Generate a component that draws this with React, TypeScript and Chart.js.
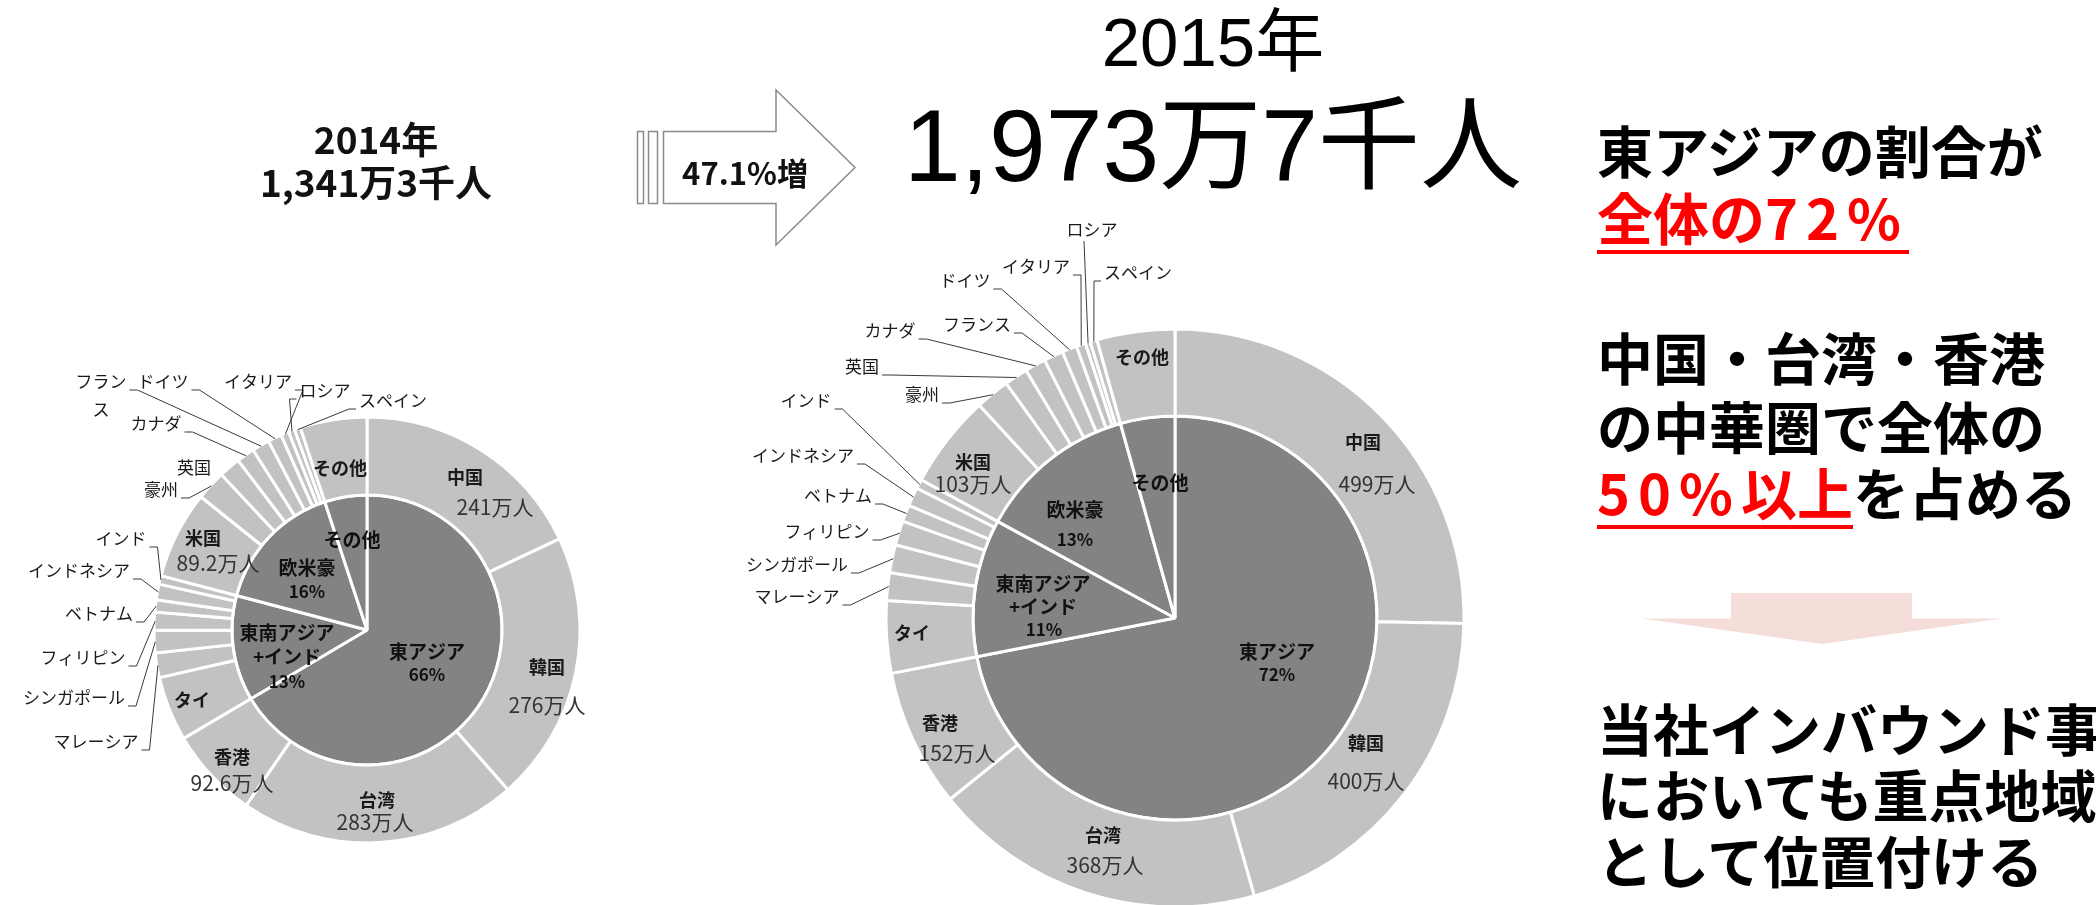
import React, { useEffect, useRef } from 'react';
import { Chart, registerables } from 'chart.js';

Chart.register(...registerables);

const JP = '"Noto Sans CJK JP", "Noto Sans", sans-serif';

// ---- data (万人) ----
const COUNTRIES = ['中国', '韓国', '台湾', '香港', 'タイ', 'マレーシア', 'シンガポール', 'フィリピン', 'ベトナム', 'インドネシア', 'インド', '米国', '豪州', '英国', 'カナダ', 'フランス', 'ドイツ', 'イタリア', 'ロシア', 'スペイン', 'その他'];
const VISITORS_2014 = [240.9, 275.5, 283.0, 92.6, 65.8, 25.0, 22.8, 18.4, 12.4, 15.9, 8.8, 89.2, 30.3, 22.0, 18.3, 17.9, 14.0, 8.1, 6.4, 6.1, 67.9];
const VISITORS_2015 = [499.4, 400.2, 367.7, 152.4, 79.7, 30.5, 30.9, 26.8, 18.5, 20.5, 10.3, 103.3, 37.6, 25.8, 23.1, 21.4, 16.3, 10.3, 5.4, 7.7, 85.9];
const REGIONS = ['東アジア', '東南アジア+インド', '欧米豪', 'その他'];
const REGION_2014 = [892.0, 169.1, 212.3, 67.9];
const REGION_2015 = [1419.7, 217.2, 250.9, 85.9];
const SHARE_2014 = ['66%', '13%', '16%', ''];
const SHARE_2015 = ['72%', '11%', '13%', ''];
const VALUE_SHOWN = ['中国', '韓国', '台湾', '香港', '米国'];
const YEAR_2014 = '2014年';
const YEAR_2015 = '2015年';
const TOTAL_2014 = '1,341万3千人';
const TOTAL_2015 = '1,973万7千人';
const GROWTH = '47.1%増';

const RING_COLOR = '#c2c2c2';
const PIE_COLOR = '#838383';

type Pt = [number, number];
type Side = 'right' | 'left' | 'bottom' | 'none';
interface Layout {
  left: number; width: number; cx: number; cy: number; R: number; ring: number;
  region: Record<string, Pt[]>;
  inRing: Record<string, Pt[]>;
  outside: Record<string, { x: number; y: number; side: Side; wrap?: number }>;
}

const LAYOUT_2014: Layout = {
  left: 0, width: 700, cx: 367, cy: 630, R: 213, ring: 78,
  region: {
    '東アジア': [[427, 652], [427, 675]],
    '東南アジア+インド': [[287, 633], [287, 657], [287, 682]],
    '欧米豪': [[307, 568], [307, 592]],
    'その他': [[352, 540]],
  },
  inRing: {
    '中国': [[465, 477], [495, 507]],
    '韓国': [[547, 667], [547, 705]],
    '台湾': [[377, 800], [375, 822]],
    '香港': [[232, 757], [232, 783]],
    'タイ': [[192, 700]],
    '米国': [[203, 538], [218, 563]],
    'その他': [[340, 468]],
  },
  outside: {
    'フランス': { x: 101, y: 382, side: 'right', wrap: 3 },
    'ドイツ': { x: 163, y: 382, side: 'right' },
    'イタリア': { x: 258, y: 382, side: 'right' },
    'ロシア': { x: 325, y: 391, side: 'left' },
    'スペイン': { x: 393, y: 401, side: 'left' },
    'カナダ': { x: 156, y: 424, side: 'right' },
    '英国': { x: 194, y: 468, side: 'none' },
    '豪州': { x: 161, y: 490, side: 'right' },
    'インド': { x: 121, y: 539, side: 'right' },
    'インドネシア': { x: 79, y: 571, side: 'right' },
    'ベトナム': { x: 99, y: 614, side: 'right' },
    'フィリピン': { x: 83, y: 658, side: 'right' },
    'シンガポール': { x: 74, y: 698, side: 'right' },
    'マレーシア': { x: 96, y: 742, side: 'right' },
  },
};

const LAYOUT_2015: Layout = {
  left: 700, width: 900, cx: 1175, cy: 618, R: 289, ring: 87,
  region: {
    '東アジア': [[1277, 652], [1277, 675]],
    '東南アジア+インド': [[1043, 584], [1043, 607], [1044, 630]],
    '欧米豪': [[1075, 510], [1075, 540]],
    'その他': [[1160, 483]],
  },
  inRing: {
    '中国': [[1363, 442], [1377, 484]],
    '韓国': [[1366, 743], [1366, 781]],
    '台湾': [[1103, 835], [1105, 865]],
    '香港': [[940, 723], [957, 753]],
    'タイ': [[912, 633]],
    '米国': [[973, 462], [973, 484]],
    'その他': [[1142, 357]],
  },
  outside: {
    'ロシア': { x: 1092, y: 230, side: 'bottom' },
    'イタリア': { x: 1036, y: 267, side: 'right' },
    'ドイツ': { x: 965, y: 281, side: 'right' },
    'スペイン': { x: 1138, y: 273, side: 'left' },
    'フランス': { x: 977, y: 325, side: 'right' },
    'カナダ': { x: 890, y: 331, side: 'right' },
    '英国': { x: 862, y: 367, side: 'right' },
    '豪州': { x: 922, y: 395, side: 'right' },
    'インド': { x: 806, y: 401, side: 'right' },
    'インドネシア': { x: 803, y: 456, side: 'right' },
    'ベトナム': { x: 838, y: 496, side: 'right' },
    'フィリピン': { x: 827, y: 532, side: 'right' },
    'シンガポール': { x: 797, y: 565, side: 'right' },
    'マレーシア': { x: 797, y: 597, side: 'right' },
  },
};

const fmtValue = (v: number) => (v >= 100 ? `${Math.round(v)}万人` : `${v.toFixed(1)}万人`);

const labelPlugin = {
  id: 'pieLabels',
  afterDraw(chart: any, _args: any, opts: any) {
    const L: Layout = opts.layout;
    const values: number[] = opts.values;
    const shares: string[] = opts.shares;
    const ctx: CanvasRenderingContext2D = chart.ctx;
    const ox = L.left;
    const ringMeta = chart.getDatasetMeta(0);
    ctx.save();
    ctx.textAlign = 'center';
    ctx.textBaseline = 'middle';

    // inner pie labels
    REGIONS.forEach((name, i) => {
      const pos = L.region[name];
      if (!pos) return;
      const lines = name.split(/(?=\+)/);
      if (shares[i]) lines.push(shares[i]);
      lines.forEach((t, k) => {
        const isPct = !!shares[i] && k === lines.length - 1;
        ctx.font = isPct ? `bold 17px ${JP}` : `bold 19px ${JP}`;
        ctx.fillStyle = '#111';
        ctx.fillText(t, pos[k][0] - ox, pos[k][1]);
      });
    });

    // labels inside ring
    COUNTRIES.forEach((name, i) => {
      const pos = L.inRing[name];
      if (!pos) return;
      ctx.fillStyle = '#1a1a1a';
      ctx.font = `bold 18px ${JP}`;
      ctx.fillText(name, pos[0][0] - ox, pos[0][1]);
      if (VALUE_SHOWN.includes(name) && pos[1]) {
        ctx.fillStyle = '#333';
        ctx.font = `21px ${JP}`;
        ctx.fillText(fmtValue(values[i]), pos[1][0] - ox, pos[1][1]);
      }
    });

    // outside labels with leader lines
    COUNTRIES.forEach((name, i) => {
      const e = L.outside[name];
      if (!e) return;
      const arc: any = ringMeta.data[i];
      const p = arc.getProps(['x', 'y', 'startAngle', 'endAngle', 'outerRadius'], true);
      const mid = (p.startAngle + p.endAngle) / 2;
      const px = p.x + Math.cos(mid) * (p.outerRadius - 1);
      const py = p.y + Math.sin(mid) * (p.outerRadius - 1);
      ctx.font = `17px ${JP}`;
      ctx.fillStyle = '#1a1a1a';
      const lines = e.wrap ? [name.slice(0, e.wrap), name.slice(e.wrap)] : [name];
      lines.forEach((t, k) => ctx.fillText(t, e.x - ox, e.y + k * 28));
      const w = ctx.measureText(lines[0]).width;
      const lx = e.x - ox;
      ctx.strokeStyle = '#3a3a3a';
      ctx.lineWidth = 1;
      ctx.beginPath();
      if (e.side === 'right') {
        const sx = lx + w / 2 + 3, sy = e.y + 8;
        ctx.moveTo(sx, sy); ctx.lineTo(sx + 8, sy); ctx.lineTo(px, py);
      } else if (e.side === 'left') {
        const sx = lx - w / 2 - 3, sy = e.y + 8;
        ctx.moveTo(sx, sy); ctx.lineTo(sx - 7, sy); ctx.lineTo(px, py);
      } else if (e.side === 'bottom') {
        ctx.moveTo(lx - 8, e.y + 11); ctx.lineTo(px, py);
      }
      ctx.stroke();
    });
    ctx.restore();
  },
};

function PieChart({ layout, values, regions, shares }: { layout: Layout; values: number[]; regions: number[]; shares: string[] }) {
  const ref = useRef<HTMLCanvasElement>(null);
  useEffect(() => {
    if (!ref.current) return;
    const H = 905;
    const cxL = layout.cx - layout.left;
    const pad = { left: 0, right: 0, top: 0, bottom: 0 };
    if (cxL * 2 < layout.width) pad.right = layout.width - 2 * cxL; else pad.left = 2 * cxL - layout.width;
    if (layout.cy * 2 < H) pad.bottom = H - 2 * layout.cy; else pad.top = 2 * layout.cy - H;
    const chart = new Chart(ref.current, {
      type: 'doughnut',
      data: {
        labels: COUNTRIES,
        datasets: [
          { data: values, backgroundColor: RING_COLOR, borderColor: '#ffffff', borderWidth: 3, weight: layout.ring } as any,
          { data: regions, backgroundColor: PIE_COLOR, borderColor: '#ffffff', borderWidth: 3, weight: layout.R - layout.ring } as any,
        ],
      },
      options: {
        responsive: false,
        animation: false,
        events: [],
        cutout: 0,
        radius: layout.R,
        layout: { padding: pad },
        plugins: {
          legend: { display: false },
          tooltip: { enabled: false },
          pieLabels: { layout, values, shares },
        } as any,
      } as any,
      plugins: [labelPlugin as any],
    });
    return () => chart.destroy();
  }, [layout, values, regions, shares]);
  return (
    <canvas
      ref={ref}
      width={layout.width}
      height={905}
      style={{ position: 'absolute', left: layout.left, top: 0, width: layout.width, height: 905 }}
    />
  );
}

const abs = (s: React.CSSProperties): React.CSSProperties => ({ position: 'absolute', whiteSpace: 'nowrap', margin: 0, ...s });

export default function App() {
  const bigLine = (text: React.ReactNode, top: number) => (
    <div style={abs({ left: 1597, top, fontFamily: JP, fontWeight: 700, fontSize: 56, lineHeight: '56px', color: '#000' })}>{text}</div>
  );
  const wide = (t: string) => <span style={{ letterSpacing: 8 }}>{t}</span>;
  const red = (a: string, b: string, digitsFirst: boolean) => (
    <span style={{ color: '#ff0000', display: 'inline-block', borderBottom: '4px solid #ff0000', paddingBottom: 6, lineHeight: '56px' }}>
      {digitsFirst ? <>{wide(a)}{b}</> : <>{a}{wide(b)}</>}
    </span>
  );
  return (
    <div style={{ position: 'absolute', left: 0, top: 0, width: 2096, height: 905, overflow: 'hidden', background: '#fff' }}>
      <PieChart layout={LAYOUT_2014} values={VISITORS_2014} regions={REGION_2014} shares={SHARE_2014} />
      <PieChart layout={LAYOUT_2015} values={VISITORS_2015} regions={REGION_2015} shares={SHARE_2015} />

      {/* 2014 title */}
      <div style={abs({ left: 176, width: 400, top: 120, textAlign: 'center', fontFamily: JP, fontWeight: 700, fontSize: 37, lineHeight: '37px', color: '#111' })}>{YEAR_2014}</div>
      <div style={abs({ left: 176, width: 400, top: 163, textAlign: 'center', fontFamily: JP, fontWeight: 700, fontSize: 37, lineHeight: '37px', color: '#111' })}>{TOTAL_2014}</div>

      {/* growth arrow */}
      <svg width={2096} height={905} style={{ position: 'absolute', left: 0, top: 0, pointerEvents: 'none' }}>
        <rect x={637.5} y={131.5} width={6} height={72} fill="#fff" stroke="#8a8a8a" strokeWidth={1.5} />
        <rect x={648.5} y={131.5} width={9} height={72} fill="#fff" stroke="#8a8a8a" strokeWidth={1.5} />
        <polygon points="663.5,131.5 776,131.5 776,90 855,167.5 776,245 776,203.5 663.5,203.5" fill="#fff" stroke="#8a8a8a" strokeWidth={1.5} />
        <rect x={1731} y={593} width={181} height={26} fill="#f5ded9" />
        <polygon points="1642,618.5 2002,618.5 1822,644" fill="#f5ded9" />
      </svg>
      <div style={abs({ left: 645, width: 200, top: 156, textAlign: 'center', fontFamily: JP, fontWeight: 700, fontSize: 31, lineHeight: '31px', color: '#111' })}>{GROWTH}</div>

      {/* 2015 title */}
      <div style={abs({ left: 913, width: 600, top: 8, textAlign: 'center', fontFamily: '"Liberation Sans", Arial, "Noto Sans CJK JP", sans-serif', fontSize: 69, lineHeight: '69px', color: '#000' })}>{YEAR_2015}</div>
      <div style={abs({ left: 813, width: 800, top: 95, textAlign: 'center', fontFamily: '"Liberation Sans", Arial, "Noto Sans CJK JP", sans-serif', fontSize: 102, lineHeight: '102px', color: '#000' })}>{TOTAL_2015}</div>

      {/* right-hand notes */}
      {bigLine('東アジアの割合が', 121)}
      {bigLine(red('全体の', '72%', false), 188)}
      {bigLine('中国・台湾・香港', 328)}
      {bigLine('の中華圏で全体の', 397)}
      {bigLine(<>{red('50%', '以上', true)}を占める</>, 463)}
      {bigLine('当社インバウンド事', 699)}
      {bigLine('においても重点地域', 765)}
      {bigLine('として位置付ける', 831)}
    </div>
  );
}
